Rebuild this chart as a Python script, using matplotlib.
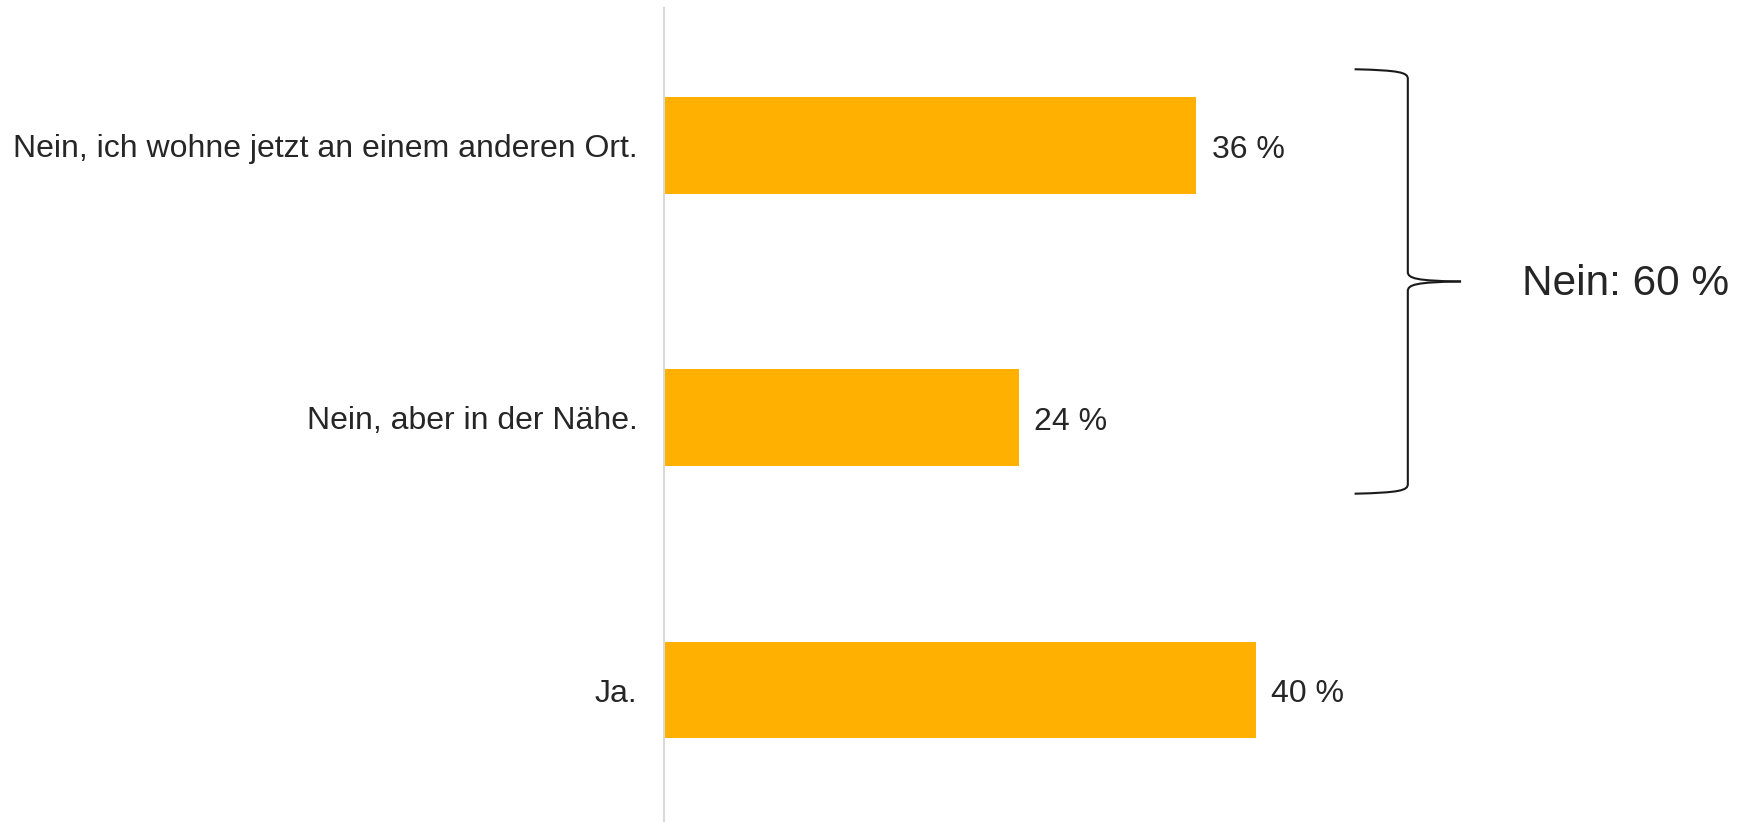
import matplotlib

matplotlib.use("Agg")
import matplotlib.pyplot as plt
from matplotlib.path import Path
from matplotlib.patches import PathPatch

plt.rcParams["font.family"] = ["Liberation Sans", "DejaVu Sans"]

categories = ["Ja.", "Nein, aber in der Nähe.", "Nein, ich wohne jetzt an einem anderen Ort."]
values = [40, 24, 36]
group_label = "Nein"
group_members = [1, 2]

bar_color = "#FFB000"
text_color = "#262626"

fig = plt.figure(figsize=(17.42, 8.22), dpi=100)
ax = fig.add_axes([0.3812, 0.0, 0.6188, 0.990])

y = list(range(len(categories)))
ax.barh(y, values, height=0.355, color=bar_color, zorder=2)
for yi, v in zip(y, values):
    ax.text(v + 1.05, yi - 0.016, f"{v} %", va="center", ha="left", fontsize=23, color=text_color)

ax.set_xlim(0, 72.9)
ax.set_ylim(-0.484, 2.503)
ax.set_yticks(y)
ax.set_yticklabels(categories, fontsize=23, color=text_color)
ax.tick_params(axis="y", length=0, pad=19)
ax.set_xticks([])
for side in ("top", "right", "bottom"):
    ax.spines[side].set_visible(False)
ax.spines["left"].set_color("#d9d9d9")
ax.spines["left"].set_linewidth(1.5)

# curly brace around the "Nein" answers
total = sum(values[i] for i in group_members)
y0 = min(group_members) - 0.279
y1 = max(group_members) + 0.279
ym = (y0 + y1) / 2
x0 = max(values[i] for i in group_members) + 14.3
w = 3.6
c = 0.035


def half_brace(ya, sign):
    verts = [
        (x0 - w, ya),
        (x0 - 0.15 * w, ya - sign * 0.004), (x0, ya - sign * 0.012), (x0, ya - sign * c),
        (x0, ym + sign * c),
        (x0, ym + sign * 0.012), (x0 + 0.15 * w, ym + sign * 0.002), (x0 + w, ym),
    ]
    codes = [Path.MOVETO, Path.CURVE4, Path.CURVE4, Path.CURVE4, Path.LINETO,
             Path.CURVE4, Path.CURVE4, Path.CURVE4]
    return PathPatch(Path(verts, codes), fill=False, edgecolor="#1a1a1a", linewidth=1.5,
                     clip_on=False)


ax.add_patch(half_brace(y1, 1))
ax.add_patch(half_brace(y0, -1))
ax.text(x0 + w + 4.1, ym - 0.008, f"{group_label}: {total} %", va="center", ha="left",
        fontsize=30.5, color=text_color)

fig.savefig("out.png", dpi=100)
